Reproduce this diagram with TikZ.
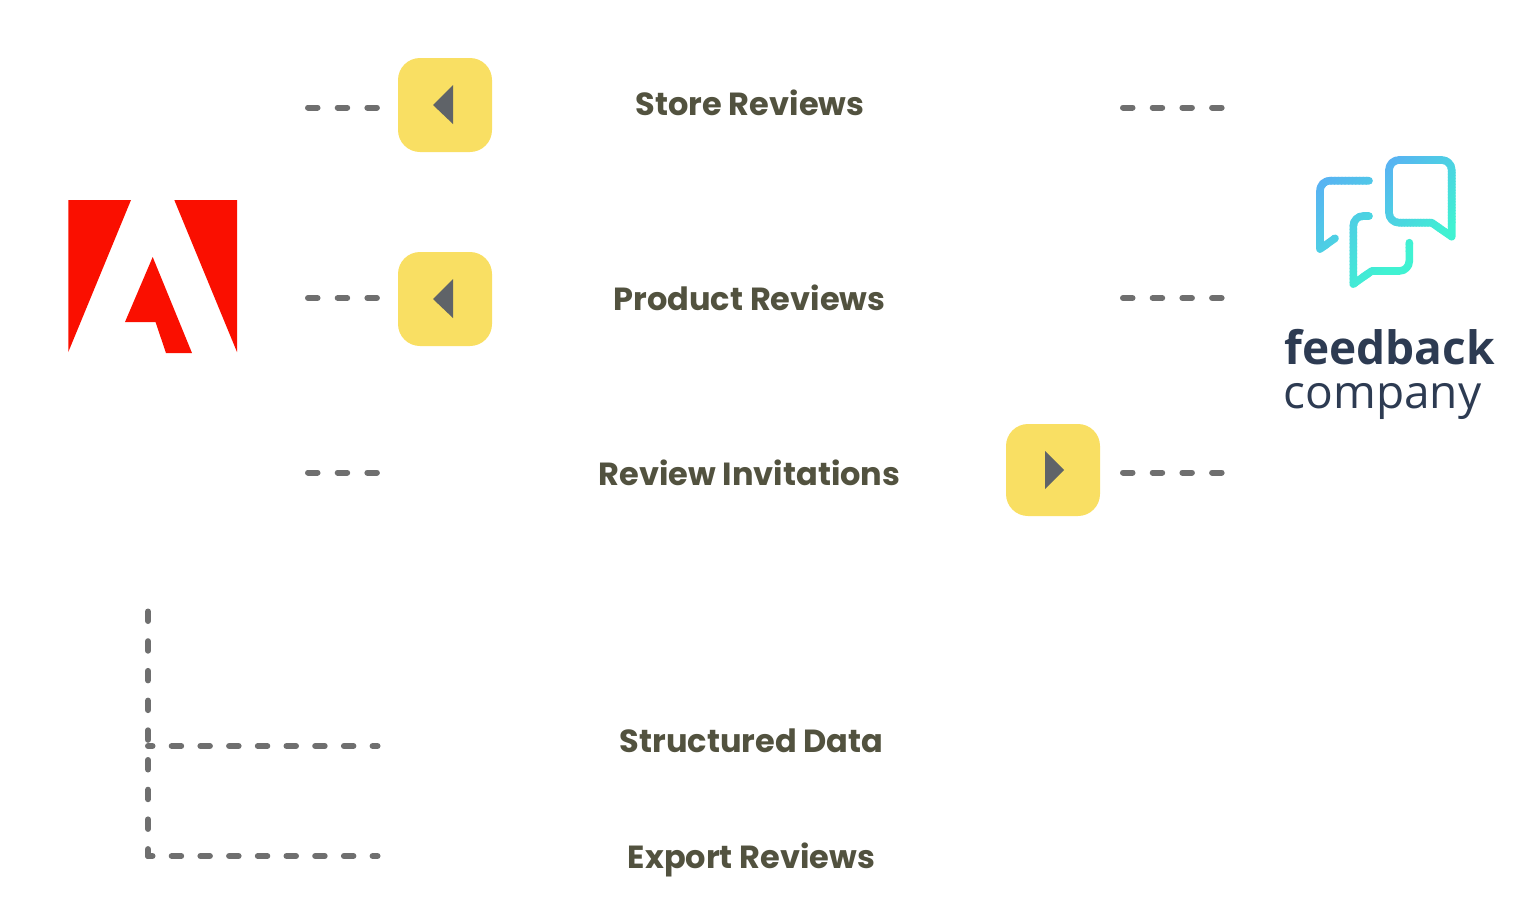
\documentclass[tikz,border=0pt]{standalone}
\usepackage{fontspec}
\setmainfont{Poppins}
\newfontfamily\opensans{Open Sans}
\usepackage{tikz}
\usetikzlibrary{positioning}
\definecolor{badgecol}{HTML}{F9DF63}
\definecolor{tricol}{HTML}{5F6368}
\definecolor{dashcol}{HTML}{6F6F6F}
\definecolor{labelcol}{HTML}{52523F}
\definecolor{adobered}{HTML}{FA0F00}
\definecolor{fbnavy}{HTML}{2D3B52}
\definecolor{fbblue}{HTML}{5AAEF5}
\definecolor{fbmint}{HTML}{40F2D2}
\tikzset{
    badge/.style={
           rectangle,
           rounded corners=22pt,
           fill=badgecol,
           minimum width=94pt,
           minimum height=94pt,
           inner sep=0pt,
           },
    rowlabel/.style={
           anchor=base,
           text=labelcol,
           font=\fontsize{32}{38}\selectfont\bfseries,
           inner sep=0pt,
           },
    linkh/.style={
           draw=dashcol,
           line width=6pt,
           line cap=round,
           dash pattern=on 9.5pt off 20.2pt,
           },
    linkl/.style={
           draw=dashcol,
           line width=6pt,
           line cap=round,
           dash pattern=on 9.5pt off 19.2pt,
           dash phase=5pt,
           },
    bubble/.style={
           line width=7.6pt,
           line cap=round,
           line join=round,
           },
}
% stroke a path in diagonal bands: path, first x+y, last x+y
\newcommand{\gradstroke}[3]{
 \foreach \i in {0,...,47} {
  \pgfmathsetmacro{\sa}{#2+\i*(#3-#2)/48}
  \pgfmathsetmacro{\sb}{\sa+(#3-#2)/48+1+80*(\i==47)}
  \pgfmathsetmacro{\mixv}{100*\i/47}
  \begin{scope}
   \clip (\sa-100,100) -- (\sb-100,100) -- (\sb-320,320) -- (\sa-320,320) -- cycle;
   \draw[bubble,color=fbmint!\mixv!fbblue] #1;
  \end{scope}
 }
}
\begin{document}
\begin{tikzpicture}[x=1pt,y=-1pt]

 \useasboundingbox (0,0) rectangle (1530,906);

 % adobe logo
 \coordinate (adobe) at (152.7,276);
 \fill[adobered] (68.3,200) -- (131,200) -- (68.3,352) -- cycle;
 \fill[adobered] (174.3,200) -- (237,200) -- (237,352) -- cycle;
 \fill[adobered] (152.7,257) -- (192,353) -- (166,353) -- (155.5,322) -- (125,322) -- cycle;

 % feedback company logo
 \gradstroke{(1451.7,236.7) [rounded corners=10pt] -- (1451.7,160) -- (1389,160) -- (1389,222.7) [sharp corners] -- (1431.7,222.7) -- cycle}{1540}{1680}
 \gradstroke{(1369,180.7) [rounded corners=10pt] -- (1320,180.7) [sharp corners] -- (1320,249) -- (1335,238.3)}{1490}{1660}
 \gradstroke{(1369,216) [rounded corners=10pt] -- (1353.3,216) [sharp corners] -- (1353.3,284) -- (1371.7,271) [rounded corners=10pt] -- (1409.3,271) -- (1409.3,242.7)}{1490}{1660}
 \node[anchor=base west,inner sep=0pt,text=fbnavy,font=\opensans\fontsize{46}{46}\selectfont\bfseries] (fbname) at (1284,364) {feedback};
 \node[anchor=base west,inner sep=0pt,text=fbnavy,font=\opensans\fontsize{46}{46}\selectfont] (fbsub) at (1283.5,408) {company};

 % labels
 \node[rowlabel] (store) at (750,115) {Store Reviews};
 \node[rowlabel] (product) at (749.5,310) {Product Reviews};
 \node[rowlabel] (invite) at (749.5,485) {Review Invitations};
 \node[rowlabel] (struct) at (751.5,752) {Structured Data};
 \node[rowlabel] (export) at (751.5,868) {Export Reviews};

 % badges
 \node[badge] (b1) at (445,105) {};
 \node[badge] (b2) at (445,299) {};
 \node[badge,minimum height=92pt] (b3) at (1053,470) {};
 \foreach \b in {b1,b2} {
  \fill[tricol] ([xshift=-12pt]\b.center) -- ([shift={(8pt,20pt)}]\b.center) -- ([shift={(8pt,-19pt)}]\b.center) -- cycle;
 }
 \fill[tricol] ([xshift=11pt]b3.center) -- ([shift={(-8pt,-19pt)}]b3.center) -- ([shift={(-8pt,19pt)}]b3.center) -- cycle;

 % connector ends
 \coordinate (l1) at (308,107.5);
 \coordinate (r1) at (377,107.5);
 \coordinate (l2) at (308,298);
 \coordinate (r2) at (377,298);
 \coordinate (l3) at (308,472.5);
 \coordinate (r3) at (377,472.5);
 \coordinate (fl1) at (1123,107.5);
 \coordinate (fr1) at (1222.5,107.5);
 \coordinate (fl2) at (1123,298);
 \coordinate (fr2) at (1222.5,298);
 \coordinate (fl3) at (1123,472.5);
 \coordinate (fr3) at (1222.5,472.5);
 \coordinate (v0) at (148,611.5);
 \coordinate (v1) at (148,746);
 \coordinate (v2) at (148,856);
 \coordinate (h1) at (377.5,746);
 \coordinate (h2) at (377.5,856);

 \foreach \a/\z in {l1/r1,l2/r2,l3/r3,fl1/fr1,fl2/fr2,fl3/fr3,v0/v2} {
  \draw[linkh] (\a) -- (\z);
 }
 \draw[linkl] (v1) -- (h1);
 \draw[linkl] (v2) -- (h2);

\end{tikzpicture}
\end{document}
